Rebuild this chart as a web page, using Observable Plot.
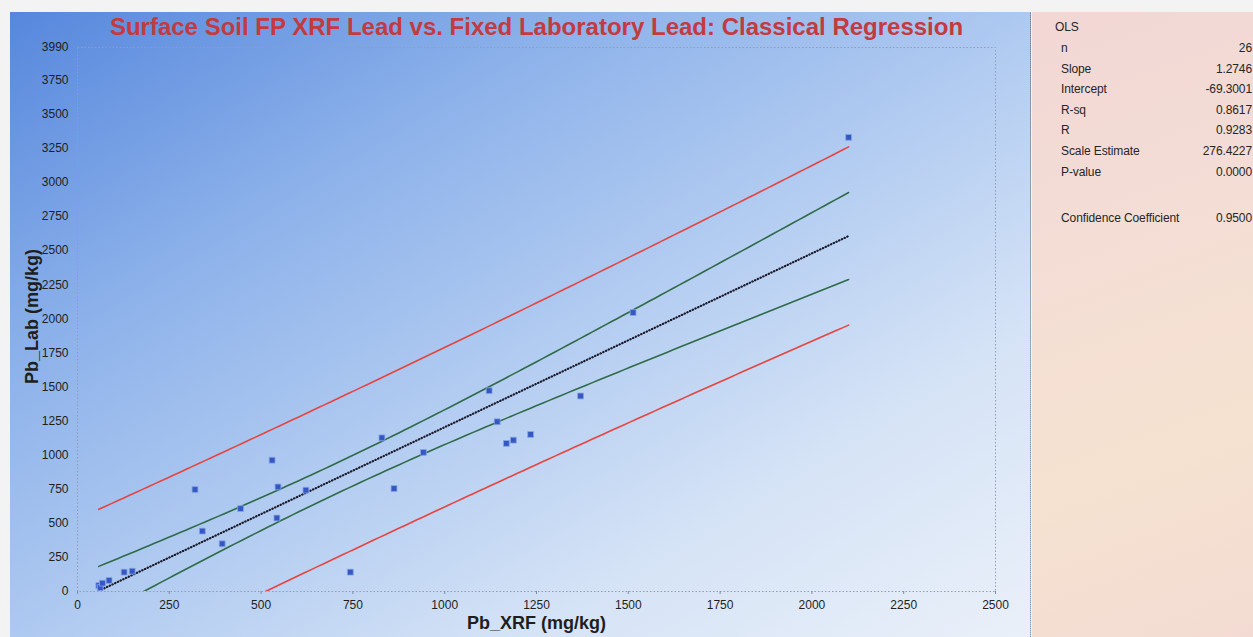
<!DOCTYPE html>
<html>
<head>
<meta charset="utf-8">
<script src="https://cdn.jsdelivr.net/npm/d3@7"></script>
<script src="https://cdn.jsdelivr.net/npm/@observablehq/plot@0.6"></script>
<style>
  html, body { margin: 0; padding: 0; background: #f3f3f3; width: 1253px; height: 637px; overflow: hidden; font-family: "Liberation Sans", Arial, sans-serif; }
  #left { position: absolute; left: 10px; top: 12px; width: 1020px; height: 625px;
    background: linear-gradient(to bottom right, #5687dd 0%, #8cb1ea 28%, #b1cbf1 52%, #d5e3f6 75%, #eaf0f9 100%);
    border-right: 1px dotted #8e9cb4; }
  #right { position: absolute; left: 1032px; top: 12px; width: 221px; height: 625px; overflow: hidden;
    background: linear-gradient(160deg, #f2d7d5 0%, #f4ded5 40%, #f5e2d0 70%, #f3dbd3 100%); }
  #chart { position: absolute; left: 0; top: 0; }
  .st { position: absolute; font-size: 12px; color: #262626; letter-spacing: -0.1px; line-height: 12px; white-space: nowrap; }
  .lab { left: 29px; }
  .val { right: 1px; text-align: right; }
</style>
</head>
<body>
<div id="left"></div>
<div id="right"></div>
<div id="chart"></div>
<script>
// ---- data ----
const pbXRF = [58, 62, 68, 86, 127, 149, 320, 340, 394, 444, 530, 543, 546, 622, 743, 829, 862,
               942, 1121, 1143, 1168, 1187, 1234, 1370, 1513, 2100];
const pbLab = [44, 29, 61, 81, 142, 149, 748, 443, 350, 608, 963, 539, 767, 743, 142, 1127, 755,
               1020, 1473, 1245, 1086, 1110, 1152, 1434, 2046, 3331];

const statLabels = ["n", "Slope", "Intercept", "R-sq", "R", "Scale Estimate", "P-value", "Confidence Coefficient"];
const statValues = ["26", "1.2746", "-69.3001", "0.8617", "0.9283", "276.4227", "0.0000", "0.9500"];
const statTops   = [30, 51, 71, 92, 112, 133, 154, 200];

const xTicks = [0, 250, 500, 750, 1000, 1250, 1500, 1750, 2000, 2250, 2500];
const yTicks = [0, 250, 500, 750, 1000, 1250, 1500, 1750, 2000, 2250, 2500, 2750, 3000, 3250, 3500, 3750, 3990];

const slope = 1.2746, intercept = -69.3001, scaleEst = 276.4227, tCrit = 2.0639; // t(0.975, 24)

// ---- regression and bands from the stated OLS fit ----
const points = pbXRF.map((x, i) => ({x, y: pbLab[i]}));
const n = pbXRF.length;
const xbar = d3.mean(pbXRF);
const sxx = d3.sum(pbXRF, x => (x - xbar) ** 2);
const xMin = d3.min(pbXRF), xMax = d3.max(pbXRF);
const grid = d3.range(0, 121).map(i => xMin + (xMax - xMin) * i / 120);
const band = grid.map(x => {
  const fit = intercept + slope * x;
  const h = 1 / n + (x - xbar) ** 2 / sxx;
  const ci = tCrit * scaleEst * Math.sqrt(h);
  const pi = tCrit * scaleEst * Math.sqrt(1 + h);
  return {x, fit, ciLo: fit - ci, ciHi: fit + ci, piLo: fit - pi, piHi: fit + pi};
});

const chart = Plot.plot({
  width: 1030,
  height: 637,
  marginLeft: 77,
  marginRight: 35,
  marginTop: 47,
  marginBottom: 46,
  style: {background: "transparent", fontFamily: "'Liberation Sans', Arial, sans-serif", fontSize: "12px", color: "#1e1e1e"},
  x: {domain: [0, 2500]},
  y: {domain: [0, 3990]},
  marks: [
    Plot.frame({stroke: "#8f9db6", strokeDasharray: "1.5,2"}),
    Plot.axisX({ticks: xTicks, tickSize: 3, tickPadding: 6, tickFormat: d => String(d), label: null, stroke: "#7f8da6", fill: "#1e1e1e"}),
    Plot.axisY({ticks: yTicks, tickSize: 0, tickPadding: 9, tickFormat: d => String(d), label: null, fill: "#1e1e1e"}),
    Plot.line(band, {x: "x", y: "piHi", stroke: "#e5453f", strokeWidth: 1.6, clip: true}),
    Plot.line(band, {x: "x", y: "piLo", stroke: "#e5453f", strokeWidth: 1.6, clip: true}),
    Plot.line(band, {x: "x", y: "ciHi", stroke: "#2f6b48", strokeWidth: 1.6, clip: true}),
    Plot.line(band, {x: "x", y: "ciLo", stroke: "#2f6b48", strokeWidth: 1.6, clip: true}),
    Plot.line(band, {x: "x", y: "fit", stroke: "#1a1a2a", strokeWidth: 2.2, strokeDasharray: "0.4,2.6", strokeLinecap: "round", clip: true}),
    Plot.dot(points, {x: "x", y: "y", symbol: "square", r: 3.3, fill: "#3457c2", stroke: "#86a4e6", strokeWidth: 0.8}),
    Plot.text(["Surface Soil FP XRF Lead vs. Fixed Laboratory Lead: Classical Regression"], {frameAnchor: "top", dy: -20, lineAnchor: "middle", fontSize: 24, fontWeight: "bold", fill: "#c23b40"}),
    Plot.text(["Pb_XRF (mg/kg)"], {frameAnchor: "bottom", dy: 32, lineAnchor: "middle", fontSize: 18, fontWeight: "bold", fill: "#1e1e1e"}),
    Plot.text(["Pb_Lab (mg/kg)"], {frameAnchor: "left", dx: -45, dy: -3, rotate: -90, textAnchor: "middle", lineAnchor: "middle", fontSize: 18, fontWeight: "bold", fill: "#1e1e1e"})
  ]
});
document.getElementById("chart").appendChild(chart);

// ---- statistics panel ----
const right = document.getElementById("right");
const head = document.createElement("div");
head.className = "st"; head.style.left = "23px"; head.style.top = "9px"; head.textContent = "OLS";
right.appendChild(head);
statLabels.forEach((lab, i) => {
  const a = document.createElement("div");
  a.className = "st lab"; a.style.top = statTops[i] + "px"; a.textContent = lab;
  right.appendChild(a);
  const b = document.createElement("div");
  b.className = "st val"; b.style.top = statTops[i] + "px"; b.textContent = statValues[i];
  right.appendChild(b);
});
</script>
</body>
</html>
